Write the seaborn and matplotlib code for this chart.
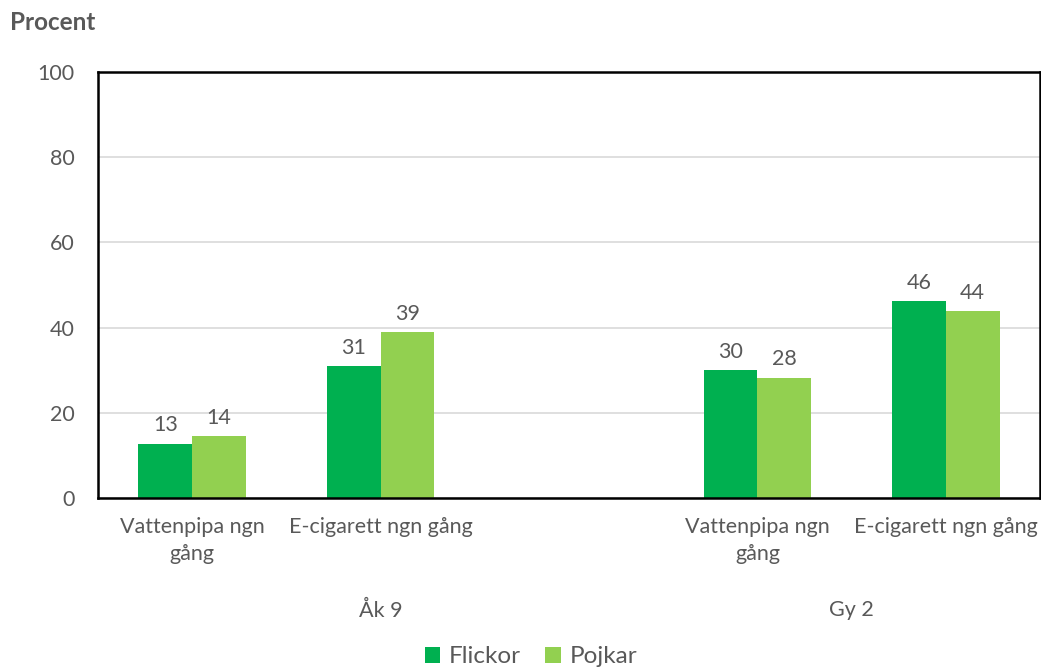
import matplotlib
matplotlib.use("Agg")
import matplotlib.pyplot as plt
import seaborn as sns
import pandas as pd
from matplotlib.patches import Patch

categories = ["Vattenpipa ngn\ngång", "E-cigarett ngn gång", "", "Vattenpipa ngn\ngång", "E-cigarett ngn gång"]
slot_keys = ["a_vat", "a_ecig", "blank", "g_vat", "g_ecig"]
groups = ["Åk 9", "Gy 2"]
series = ["Flickor", "Pojkar"]
flickor = [12.7, 31.0, None, 30.0, 46.2]
pojkar = [14.5, 38.9, None, 28.2, 43.9]
labels_f = [13, 31, None, 30, 46]
labels_p = [14, 39, None, 28, 44]

rows = []
for k, f, p in zip(slot_keys, flickor, pojkar):
    if f is not None:
        rows.append({"slot": k, "kon": "Flickor", "val": f})
        rows.append({"slot": k, "kon": "Pojkar", "val": p})
df = pd.DataFrame(rows)

sns.set_theme(style="white")
plt.rcParams["font.family"] = ["Lato", "DejaVu Sans"]
txt = "#595959"
colors = {"Flickor": "#00B050", "Pojkar": "#92D050"}
fs = 15.5

fig = plt.figure(figsize=(10.41, 6.69), dpi=100)
ax = fig.add_axes([0.0941, 0.256, 0.905, 0.636])
sns.barplot(data=df, x="slot", y="val", hue="kon", order=slot_keys,
            hue_order=series, palette=colors, width=0.57, gap=0,
            ax=ax, legend=False, saturation=1, errorbar=None, linewidth=0)

ax.set_ylim(0, 100)
ax.set_yticks([0, 20, 40, 60, 80, 100])
ax.yaxis.grid(True, color="#D9D9D9", linewidth=1.2)
ax.set_axisbelow(True)
for s in ax.spines.values():
    s.set_visible(True)
    s.set_color("black")
    s.set_linewidth(1.8)
ax.set_xlabel("")
ax.set_ylabel("")
ax.tick_params(axis="both", length=0, labelsize=fs, labelcolor=txt)
ax.tick_params(axis="y", pad=17)
ax.tick_params(axis="x", pad=14)
ax.set_xticks(range(len(categories)))
ax.set_xticklabels(categories, linespacing=1.45)

# value labels
for cont, labs in zip(ax.containers, [labels_f, labels_p]):
    bars = [b for b in cont]
    vals = [l for l in labs if l is not None]
    for b, l in zip(bars, vals):
        ax.annotate(str(l), (b.get_x() + b.get_width() / 2, b.get_height()),
                    xytext=(0, 6), textcoords="offset points",
                    ha="center", va="bottom", fontsize=fs, color=txt)

# group labels
trans = ax.get_xaxis_transform()
ax.text(1, -0.265, groups[0], transform=trans, ha="center", va="center",
        fontsize=fs, color=txt)
ax.text(3.5, -0.265, groups[1], transform=trans, ha="center", va="center",
        fontsize=fs, color=txt)

fig.text(0.0096, 0.967, "Procent", fontsize=17.5, fontweight="bold",
         color=txt, ha="left", va="center")

handles = [Patch(facecolor=colors[s], edgecolor="none") for s in series]
fig.legend(handles, series, loc="center", bbox_to_anchor=(0.51, 0.018),
           ncol=2, frameon=False, fontsize=17.5, labelcolor=txt,
           handlelength=0.65, handleheight=0.65, handletextpad=0.35,
           columnspacing=1.0)

fig.savefig("out.png", dpi=100)
